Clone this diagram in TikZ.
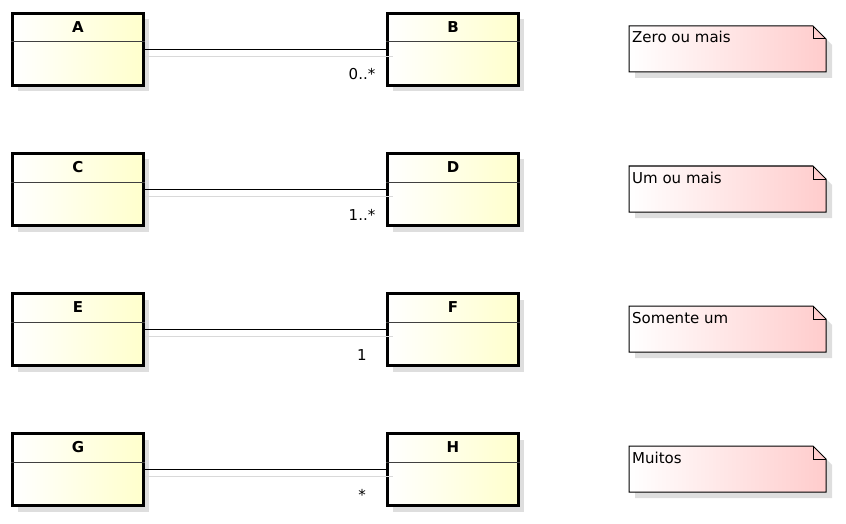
\documentclass[tikz,border=0pt]{standalone}
\usepackage{fontspec}
\setmainfont{DejaVu Sans}
\usetikzlibrary{shadows}

\tikzset{
  classbox/.style={draw, line width=3pt, minimum width=131pt, minimum height=72pt,
    inner sep=0pt, left color=white, right color=yellow!20,
    drop shadow={shadow xshift=5pt, shadow yshift=-6pt, fill=black!13, opacity=1}},
  classname/.style={font=\fontsize{15}{18}\selectfont\bfseries, inner sep=0pt},
  sepline/.style={draw=black!75, line width=1pt},
  assoc/.style={draw=black, line width=1pt},
  assocshadow/.style={draw=black!15, line width=1pt},
  mult/.style={font=\fontsize{15}{18}\selectfont, inner sep=0pt},
  notebox/.style={draw, line width=1pt, left color=white, right color=red!20,
    drop shadow={shadow xshift=6pt, shadow yshift=-6pt, fill=black!13, opacity=1}},
  notetext/.style={font=\fontsize{15}{18}\selectfont, inner sep=0pt}
}

\begin{document}
\begin{tikzpicture}[x=1pt,y=-1pt]
  \useasboundingbox (0,0) rectangle (846,524);

  \foreach \l/\r/\m/\t [count=\i from 0] in
    {A/B/{0..*}/Zero ou mais, C/D/{1..*}/Um ou mais, E/F/1/Somente um, G/H/*/Muitos}{
    %classes
    \node[classbox] (\l) at (78,49.5+140*\i) {};
    \node[classbox] (\r) at (453,49.5+140*\i) {};
    \node[classname] (\l name) at ([yshift=-15.5pt]\l.north) {\l};
    \node[classname] (\r name) at ([yshift=-15.5pt]\r.north) {\r};
    \draw[sepline] ([yshift=-30pt]\l.north west) -- ([yshift=-30pt]\l.north east);
    \draw[sepline] ([yshift=-30pt]\r.north west) -- ([yshift=-30pt]\r.north east);

    %association
    \draw[assoc] (\l) -- (\r);
    \draw[assocshadow] ([yshift=-7pt]\l.east) -- ([shift={(7pt,-7pt)}]\r.west);
    \node[mult, anchor=base] (\r mult) at ([shift={(-24pt,-30.5pt)}]\r.west) {\m};

    %note
    \coordinate (n\i) at (629,26+140*\i);
    \path[notebox] (n\i) -- ++(184,0) -- ++(13,13) -- ++(0,33) -- ++(-197,0) -- cycle;
    \draw[line width=1pt] ([xshift=184pt]n\i) -- ++(0,13) -- ++(13,0);
    \node[notetext, anchor=base west] (t\i) at ([shift={(3pt,-17pt)}]n\i) {\t};
  }
\end{tikzpicture}
\end{document}
